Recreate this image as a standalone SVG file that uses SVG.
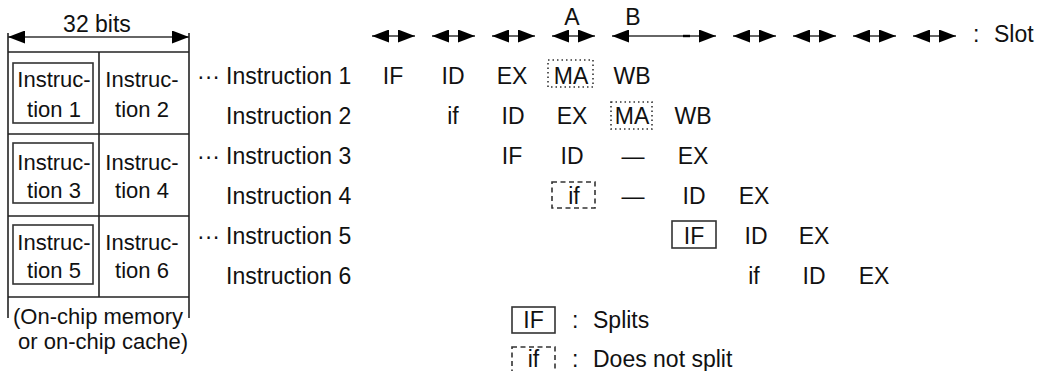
<svg xmlns="http://www.w3.org/2000/svg" width="1039" height="371" viewBox="0 0 1039 371">
<style>
text{font-family:"Liberation Sans",Arial,sans-serif;font-size:23px;fill:#111}
.m{text-anchor:middle}
.s{font-size:22px}
.ln{stroke:#222;stroke-width:1.6;fill:none}
.bx{stroke:#333;stroke-width:1.6;fill:none}
.dot{stroke:#333;stroke-width:1.6;fill:none;stroke-dasharray:1.5 3}
.dash{stroke:#333;stroke-width:1.6;fill:none;stroke-dasharray:5 3.5}
.ar{stroke:#333;stroke-width:1.4;fill:none;marker-start:url(#ah);marker-end:url(#ah)}
</style>
<defs>
<marker id="ah" markerUnits="userSpaceOnUse" markerWidth="17" markerHeight="13" refX="17" refY="6.5" orient="auto-start-reverse">
<path d="M0,0 L17,6.5 L0,13 z" fill="#000"/>
</marker>
</defs>

<g id="memory">
<text class="m" x="97" y="32">32 bits</text>
<line class="ar" x1="8" y1="37" x2="189" y2="37"/>
<line class="ln" x1="8" y1="33" x2="8" y2="318"/>
<line class="ln" x1="189" y1="33" x2="189" y2="318"/>
<line class="ln" x1="8" y1="52" x2="189" y2="52"/>
<line class="ln" x1="8" y1="134" x2="189" y2="134"/>
<line class="ln" x1="8" y1="216" x2="189" y2="216"/>
<line class="ln" x1="8" y1="297" x2="189" y2="297"/>
<line class="ln" x1="99" y1="52" x2="99" y2="297"/>
<rect class="bx" x="13" y="63" width="80" height="60"/>
<rect class="bx" x="13" y="143" width="80" height="60"/>
<rect class="bx" x="13" y="225" width="80" height="59"/>
<text class="m s" x="54" y="87">Instruc-</text><text class="m s" x="54" y="117">tion 1</text>
<text class="m s" x="142" y="87">Instruc-</text><text class="m s" x="142" y="117">tion 2</text>
<text class="m s" x="54" y="170">Instruc-</text><text class="m s" x="54" y="198">tion 3</text>
<text class="m s" x="142" y="170">Instruc-</text><text class="m s" x="142" y="198">tion 4</text>
<text class="m s" x="54" y="250">Instruc-</text><text class="m s" x="54" y="278">tion 5</text>
<text class="m s" x="142" y="250">Instruc-</text><text class="m s" x="142" y="278">tion 6</text>
<text class="m s" x="98" y="324">(On-chip memory</text>
<text class="m s" x="103" y="349">or on-chip cache)</text>
</g>

<g id="slots">
<line class="ar" x1="372" y1="36" x2="415" y2="36"/>
<line class="ar" x1="432" y1="36" x2="475" y2="36"/>
<line class="ar" x1="492" y1="36" x2="535" y2="36"/>
<line class="ar" x1="552" y1="36" x2="595" y2="36"/>
<line class="ar" x1="612" y1="36" x2="716" y2="36"/>
<line x1="683" y1="36" x2="690" y2="36" stroke="#000" stroke-width="2.4"/>
<line class="ar" x1="733" y1="36" x2="776" y2="36"/>
<line class="ar" x1="793" y1="36" x2="836" y2="36"/>
<line class="ar" x1="853" y1="36" x2="896" y2="36"/>
<line class="ar" x1="913" y1="36" x2="956" y2="36"/>
<text class="m" x="572" y="25">A</text>
<text class="m" x="633" y="25">B</text>
<text x="973" y="42">:</text>
<text x="994" y="42">Slot</text>
</g>

<g id="row1">
<text x="197" y="84">···</text><text x="226" y="84">Instruction 1</text>
<text class="m" x="393" y="84">IF</text><text class="m" x="453" y="84">ID</text><text class="m" x="512" y="84">EX</text>
<rect class="dot" x="548" y="60" width="45" height="27"/><text class="m" x="571" y="84">MA</text>
<text class="m" x="632" y="84">WB</text>
</g>
<g id="row2">
<text x="226" y="124">Instruction 2</text>
<text class="m" x="453" y="124">if</text><text class="m" x="513" y="124">ID</text><text class="m" x="572" y="124">EX</text>
<rect class="dot" x="611" y="102" width="41" height="27"/><text class="m" x="632" y="124">MA</text>
<text class="m" x="693" y="124">WB</text>
</g>
<g id="row3">
<text x="197" y="164">···</text><text x="226" y="164">Instruction 3</text>
<text class="m" x="512" y="164">IF</text><text class="m" x="572" y="164">ID</text><text class="m" x="633" y="164">—</text><text class="m" x="693" y="164">EX</text>
</g>
<g id="row4">
<text x="226" y="204">Instruction 4</text>
<rect class="dash" x="552" y="182" width="43" height="26"/><text class="m" x="574" y="204">if</text>
<text class="m" x="633" y="204">—</text><text class="m" x="694" y="204">ID</text><text class="m" x="754" y="204">EX</text>
</g>
<g id="row5">
<text x="197" y="244">···</text><text x="226" y="244">Instruction 5</text>
<rect class="bx" x="672" y="221" width="44" height="27"/><text class="m" x="694" y="244">IF</text>
<text class="m" x="756" y="244">ID</text><text class="m" x="814" y="244">EX</text>
</g>
<g id="row6">
<text x="226" y="284">Instruction 6</text>
<text class="m" x="754" y="284">if</text><text class="m" x="814" y="284">ID</text><text class="m" x="874" y="284">EX</text>
</g>

<g id="legend">
<rect class="bx" x="512" y="307" width="43" height="26"/><text class="m" x="533.5" y="328">IF</text>
<text x="572" y="328">:</text><text x="593" y="328">Splits</text>
<rect class="dash" x="512" y="347" width="43" height="26"/><text class="m" x="533.5" y="367">if</text>
<text x="572" y="367">:</text><text x="593" y="367">Does not split</text>
</g>
</svg>
